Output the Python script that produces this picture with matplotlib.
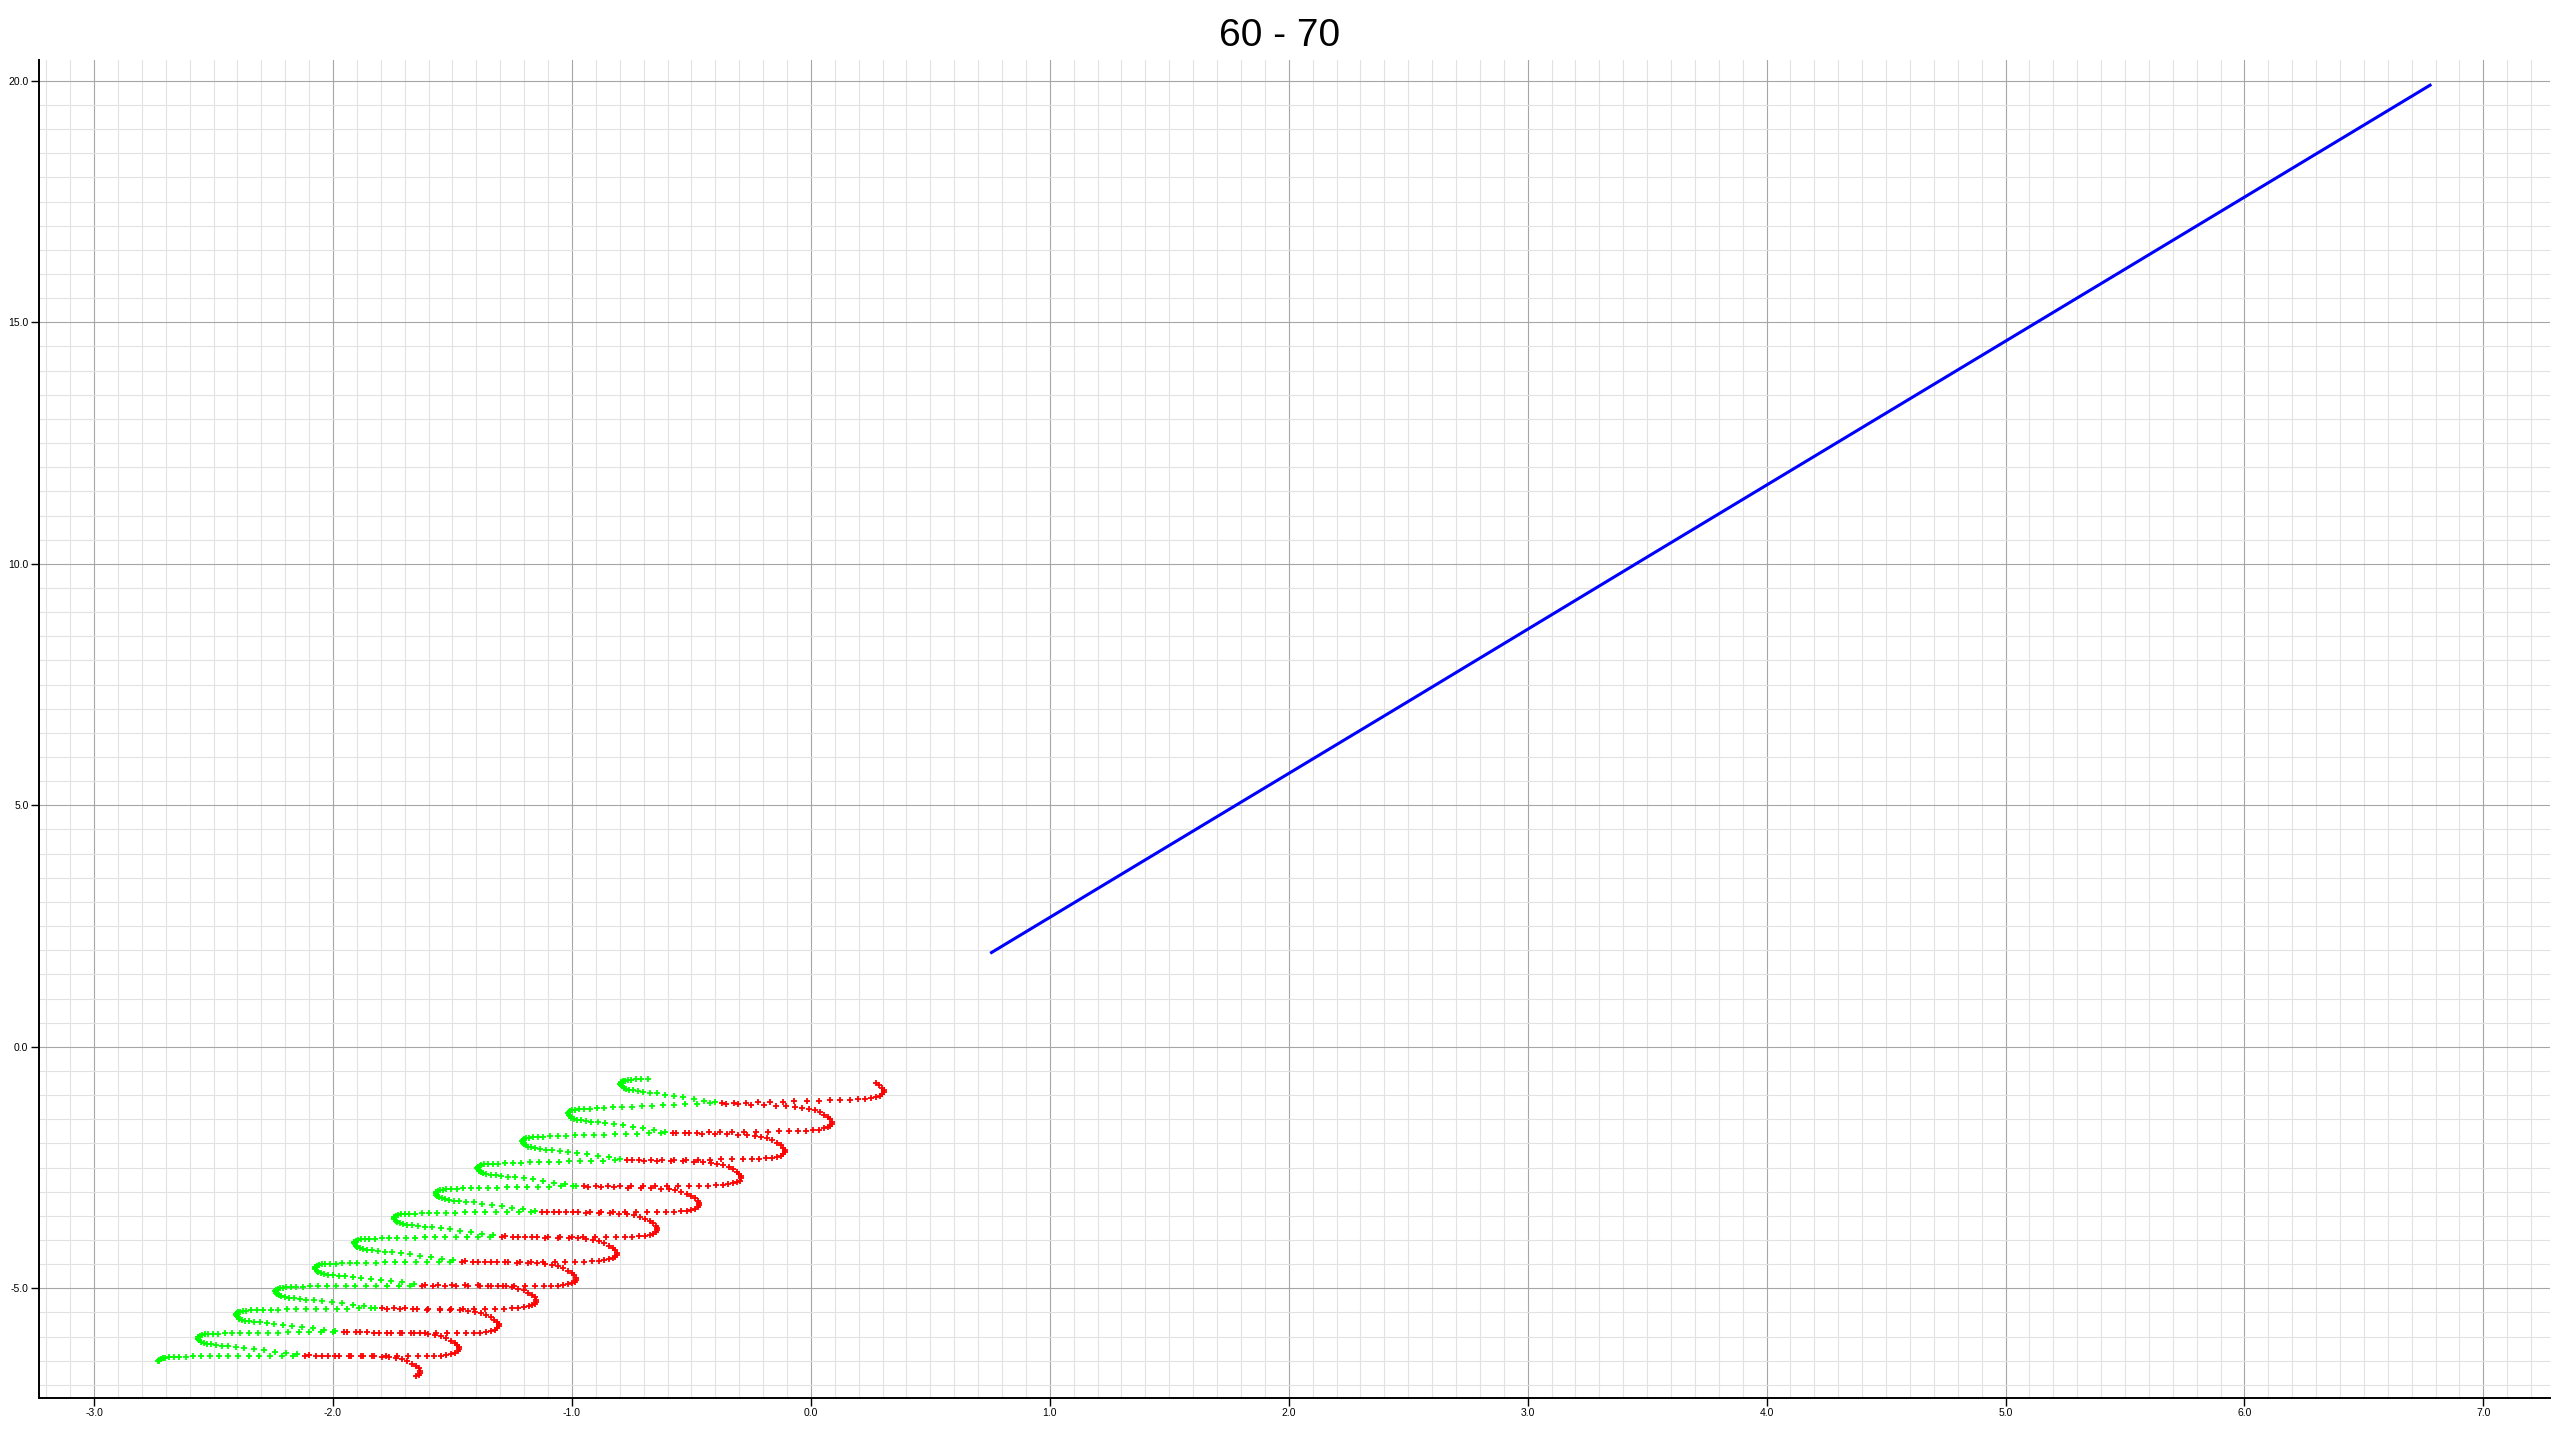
import numpy as np
import matplotlib
matplotlib.use('Agg')
import matplotlib.pyplot as plt
from matplotlib.ticker import MultipleLocator, FormatStrFormatter

plt.rcParams['font.family'] = ['Liberation Sans', 'DejaVu Sans']

title = '60 - 70'

# blue run of points (straight)
blue_x = [0.756, 1.5, 2.5, 3.5, 4.5, 5.5, 6.777]
blue_y = [1.952, 4.17, 7.15, 10.14, 13.12, 16.10, 19.91]

# spiral: left turns (leftmost points), top to bottom
left_x = [-0.797, -1.017, -1.209, -1.397, -1.571, -1.746, -1.913, -2.077, -2.241, -2.407, -2.567, -2.731]
left_y = [-0.76, -1.38, -1.96, -2.51, -3.03, -3.545, -4.06, -4.58, -5.06, -5.545, -6.025, -6.51]
# right turns (rightmost points), top to bottom
right_x = [0.305, 0.087, -0.109, -0.292, -0.467, -0.642, -0.812, -0.983, -1.149, -1.307, -1.473, -1.635]
right_y = [-0.895, -1.55, -2.135, -2.685, -3.235, -3.75, -4.265, -4.78, -5.235, -5.745, -6.225, -6.705]

# one loop: left turn -> right turn (offsets from the left turn)
down_dx = [0.000, 0.003, 0.008, 0.015, 0.025, 0.039, 0.056, 0.077, 0.100, 0.128, 0.160,
           0.195, 0.234, 0.276, 0.321, 0.366, 0.413, 0.463, 0.516, 0.572, 0.628, 0.681,
           0.726, 0.765, 0.798, 0.826, 0.851, 0.873, 0.893, 0.908, 0.919, 0.926]
down_dy = [0.000, -0.028, -0.055, -0.083, -0.104, -0.124, -0.138, -0.152, -0.166, -0.179, -0.193,
           -0.214, -0.235, -0.262, -0.297, -0.324, -0.359, -0.380, -0.390, -0.397, -0.404, -0.407,
           -0.414, -0.421, -0.435, -0.455, -0.483, -0.524, -0.573, -0.621, -0.669, -0.718]
# right turn -> next left turn (offsets from the right turn)
back_dx = [0.000, 0.000, -0.006, -0.017, -0.033, -0.053, -0.077, -0.105, -0.137, -0.174, -0.216,
           -0.262, -0.310, -0.359, -0.407, -0.456, -0.505, -0.554, -0.603, -0.652, -0.700,
           -0.749, -0.798, -0.844, -0.889, -0.932, -0.974, -1.014, -1.053, -1.090, -1.123,
           -1.154, -1.182, -1.206, -1.225, -1.240, -1.252, -1.260, -1.266, -1.268, -1.270]
back_dy = [0.000, -0.041, -0.083, -0.117, -0.138, -0.159, -0.173, -0.179, -0.186, -0.186, -0.186,
           -0.186, -0.186, -0.186, -0.186, -0.186, -0.186, -0.186, -0.186, -0.186, -0.186,
           -0.186, -0.193, -0.193, -0.193, -0.200, -0.200, -0.207, -0.207, -0.214, -0.214,
           -0.221, -0.228, -0.228, -0.235, -0.242, -0.255, -0.269, -0.290, -0.304, -0.317]

down_dx = np.array(down_dx); down_dy = np.array(down_dy)
back_dx = np.array(back_dx); back_dy = np.array(back_dy)
down_green = down_dx < 0.45
back_green = back_dx < -0.665


def stretch(p, q, tx, ty):
    # put the loop shape between two read turn points
    ex = (q[0] - p[0]) - tx[-1]
    ey = (q[1] - p[1]) - ty[-1]
    w = tx / tx[-1]
    return p[0] + tx + ex * w, p[1] + ty + ey * w


def build(anchors, kinds):
    xs, ys, gs = [], [], []
    for i in range(len(anchors) - 1):
        p, q = anchors[i], anchors[i + 1]
        if kinds[i] == 'L':
            x, y = stretch(p, q, down_dx, down_dy)
            g = down_green
        else:
            x, y = stretch(p, q, back_dx, back_dy)
            g = back_green
        xs += list(x[:-1]); ys += list(y[:-1]); gs += list(g[:-1])
    return xs, ys, gs


L = list(zip(left_x, left_y))
R = list(zip(right_x, right_y))

# strand A: L1 R1 L3 R3 ... L11 R11
anc_a, kind_a = [], []
for k in range(0, 12, 2):
    anc_a += [L[k], R[k + 1]]
    kind_a += ['L', 'R']
ax_, ay_, ag_ = build(anc_a, kind_a)
# head: short piece just before the first left turn
vr = (L[0][0] - back_dx[-1], L[0][1] - back_dy[-1])
sel = back_dx[:-1] <= -1.15
head_x = list(vr[0] + back_dx[:-1][sel]); head_y = list(vr[1] + back_dy[:-1][sel])
ax_ = head_x + ax_; ay_ = head_y + ay_; ag_ = [True] * len(head_x) + ag_
# tail: curl after last right turn
ax_ += list(R[11][0] + back_dx[:4]); ay_ += list(R[11][1] + back_dy[:4]); ag_ += [False] * 4

# strand B: R0 L2 R2 L4 ... R10 L12
anc_b, kind_b = [], []
for k in range(0, 12, 2):
    anc_b += [R[k], L[k + 1]]
    kind_b += ['R', 'L']
bx_, by_, bg_ = build(anc_b, kind_b)
vl = (R[0][0] - down_dx[-1], R[0][1] - down_dy[-1])
bx_ = list(vl[0] + down_dx[28:31]) + bx_
by_ = list(vl[1] + down_dy[28:31]) + by_
bg_ = [False] * 3 + bg_
bx_.append(L[11][0]); by_.append(L[11][1]); bg_.append(True)

sx = np.array(ax_ + bx_); sy = np.array(ay_ + by_); sg = np.array(ag_ + bg_)

fig = plt.figure(figsize=(25.6, 14.4), dpi=100)
ax = fig.add_axes([0.0152, 0.0292, 0.9809, 0.9291])

ax.plot(sx[sg], sy[sg], '+', color='#00ff00', ms=4.2, mew=1.3, zorder=3)
ax.plot(sx[~sg], sy[~sg], '+', color='#ff0000', ms=4.2, mew=1.3, zorder=3)
ax.plot(blue_x, blue_y, '-', color='#0000ff', lw=2.2, zorder=3)

ax.set_xlim(-3.231, 7.279)
ax.set_ylim(-7.27, 20.43)
ax.xaxis.set_major_locator(MultipleLocator(1.0))
ax.xaxis.set_minor_locator(MultipleLocator(0.1))
ax.yaxis.set_major_locator(MultipleLocator(5.0))
ax.yaxis.set_minor_locator(MultipleLocator(0.5))
ax.xaxis.set_major_formatter(FormatStrFormatter('%.1f'))
ax.yaxis.set_major_formatter(FormatStrFormatter('%.1f'))

ax.grid(which='major', color='#a6a6a6', lw=0.8, zorder=0)
ax.grid(which='minor', color='#e2e2e2', lw=0.8, zorder=0)
ax.set_axisbelow(True)

for s in ['top', 'right']:
    ax.spines[s].set_visible(False)
for s in ['left', 'bottom']:
    ax.spines[s].set_linewidth(1.4)
    ax.spines[s].set_color('black')

ax.tick_params(which='major', length=6, width=1, pad=1.5, labelsize=7.5)
ax.tick_params(which='minor', length=0)

# title centred on the figure, not on the axes
ax.set_title(title, fontsize=28, pad=10, x=0.4942)

fig.savefig('out.png', dpi=100)
